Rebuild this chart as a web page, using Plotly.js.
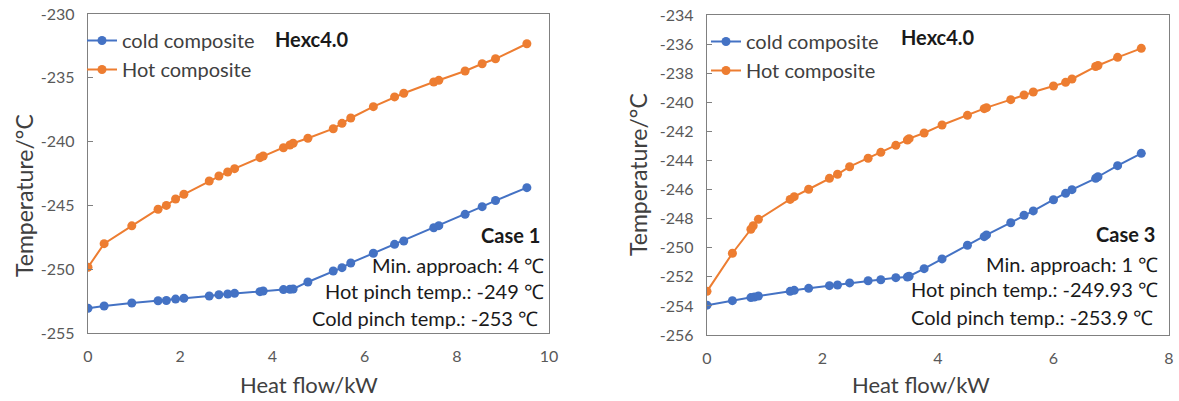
<!DOCTYPE html>
<html>
<head>
<meta charset="utf-8">
<script src="https://cdn.plot.ly/plotly-3.0.1.min.js"></script>
<style>html,body{margin:0;padding:0;background:#fff;}#chart{width:1179px;height:401px;}</style>
</head>
<body>
<div id="chart"></div>
<script>
// ---- Case 1 data ----
const case1HotQ = [0, 0.35, 0.95, 1.52, 1.70, 1.90, 2.08, 2.63, 2.84, 3.03, 3.18, 3.73, 3.80, 4.24, 4.38, 4.45, 4.77, 5.32, 5.51, 5.70, 6.19, 6.65, 6.85, 7.50, 7.61, 8.18, 8.55, 8.84, 9.52];
const case1HotT = [-249.85, -248.0, -246.6, -245.3, -245.0, -244.5, -244.13, -243.09, -242.7, -242.38, -242.12, -241.26, -241.13, -240.48, -240.27, -240.13, -239.74, -238.99, -238.57, -238.15, -237.26, -236.5, -236.21, -235.33, -235.2, -234.47, -233.9, -233.51, -232.33];
const case1ColdQ = [0, 0.35, 0.95, 1.52, 1.70, 1.90, 2.08, 2.63, 2.84, 3.03, 3.18, 3.73, 3.80, 4.24, 4.38, 4.45, 4.77, 5.32, 5.51, 5.70, 6.19, 6.65, 6.85, 7.50, 7.61, 8.18, 8.55, 8.84, 9.52];
const case1ColdT = [-253.06, -252.88, -252.65, -252.47, -252.45, -252.34, -252.28, -252.1, -252.0, -251.94, -251.89, -251.76, -251.71, -251.6, -251.57, -251.55, -251.0, -250.14, -249.88, -249.51, -248.75, -248.05, -247.79, -246.75, -246.59, -245.7, -245.1, -244.62, -243.61];

// ---- Case 3 data ----
const case3HotQ = [0, 0.44, 0.76, 0.80, 0.89, 1.44, 1.51, 1.76, 2.12, 2.26, 2.47, 2.79, 3.01, 3.27, 3.47, 3.50, 3.76, 4.07, 4.51, 4.80, 4.84, 5.26, 5.49, 5.65, 6.00, 6.21, 6.32, 6.73, 6.77, 7.11, 7.52];
const case3HotT = [-253.0, -250.38, -248.73, -248.49, -248.05, -246.68, -246.49, -245.98, -245.23, -244.95, -244.43, -243.85, -243.44, -242.96, -242.59, -242.5, -242.11, -241.56, -240.9, -240.44, -240.37, -239.82, -239.5, -239.29, -238.88, -238.63, -238.4, -237.54, -237.47, -236.91, -236.29];
const case3ColdQ = [0, 0.44, 0.76, 0.82, 0.89, 1.44, 1.51, 1.76, 2.12, 2.26, 2.47, 2.79, 3.01, 3.27, 3.47, 3.50, 3.76, 4.07, 4.51, 4.80, 4.84, 5.26, 5.49, 5.65, 6.00, 6.21, 6.32, 6.73, 6.77, 7.11, 7.52];
const case3ColdT = [-253.95, -253.64, -253.43, -253.39, -253.32, -253.0, -252.93, -252.79, -252.61, -252.56, -252.42, -252.27, -252.2, -252.06, -252.01, -251.96, -251.44, -250.77, -249.83, -249.24, -249.12, -248.28, -247.77, -247.47, -246.7, -246.26, -246.01, -245.23, -245.12, -244.36, -243.51];

// ---- tick labels ----
const case1XTicks = [0, 2, 4, 6, 8, 10];
const case1YTicks = [-255, -250, -245, -240, -235, -230];
const case1YLabels = ["-255", "-250", "-245", "-240", "-235", "-230"];
const case3XTicks = [0, 2, 4, 6, 8];
const case3YTicks = [-256, -254, -252, -250, -248, -246, -244, -242, -240, -238, -236, -234];
const case3YLabels = ["-256", "-254", "-252", "-250", "-248", "-246", "-244", "-242", "-240", "-238", "-236", "-234"];

// ---- text ----
const seriesNames = ["cold composite", "Hot composite"];
const blockTitle = "Hexc4.0";
const case1Lines = ["Case 1", "Min. approach: 4 ℃", "Hot pinch temp.: -249 ℃", "Cold pinch temp.: -253 ℃"];
const case3Lines = ["Case 3", "Min. approach: 1 ℃", "Hot pinch temp.: -249.93 ℃", "Cold pinch temp.: -253.9 ℃"];
const xTitle = "Heat flow/kW";
const yTitle = "Temperature/°C";

const W = 1179, H = 401;
const px = x => x / W;
const py = y => 1 - y / H;

const BLUE = "#4472C4", ORANGE = "#ED7D31";
const FONT = "Lato, 'Open Sans', sans-serif";
const TICKC = "#595959";
const TITLEC = "#404040";

function trace(x, y, name, color, xa, ya, lg) {
  return {
    x: x, y: y, name: name, type: "scatter", mode: "lines+markers",
    line: {color: color, width: 2},
    marker: {color: color, size: 9, symbol: "circle"},
    xaxis: xa, yaxis: ya, legend: lg
  };
}

const data = [
  trace(case1ColdQ, case1ColdT, seriesNames[0], BLUE, "x", "y", "legend"),
  trace(case1HotQ, case1HotT, seriesNames[1], ORANGE, "x", "y", "legend"),
  trace(case3ColdQ, case3ColdT, seriesNames[0], BLUE, "x2", "y2", "legend2"),
  trace(case3HotQ, case3HotT, seriesNames[1], ORANGE, "x2", "y2", "legend2")
];

function xaxis(domain, range, ticks, anchor) {
  return {
    domain: domain, range: range, anchor: anchor,
    tickmode: "array", tickvals: ticks, ticktext: ticks.map(String),
    showline: true, mirror: true, linecolor: "#808080", linewidth: 1.3,
    showgrid: false, zeroline: false, ticks: "",
    ticklabelstandoff: 8,
    tickfont: {family: FONT, size: 16, color: TICKC}
  };
}
function yaxis(domain, range, ticks, labels, anchor) {
  return {
    domain: domain, range: range, anchor: anchor,
    tickmode: "array", tickvals: ticks, ticktext: labels,
    showline: true, mirror: true, linecolor: "#808080", linewidth: 1.3,
    showgrid: false, zeroline: false, ticks: "inside", ticklen: 5, tickcolor: "#808080",
    ticklabelstandoff: 9,
    tickfont: {family: FONT, size: 16, color: TICKC}
  };
}

const annotations = [];
function addText(lines, rightX, ys) {
  lines.forEach((t, i) => {
    annotations.push({
      xref: "paper", yref: "paper", x: px(rightX[i]), y: py(ys[i]),
      xanchor: "right", yanchor: "middle", showarrow: false,
      text: i === 0 ? "<b>" + t + "</b>" : t,
      font: {family: FONT, size: 20, color: "#1a1a1a"}
    });
  });
}
addText(case1Lines, [542, 546, 546, 540], [235, 265, 291, 318]);
addText(case3Lines, [1157, 1160, 1160, 1155], [234, 264, 289, 317]);

function addLabel(text, x, y, size, angle, color, bold) {
  annotations.push({xref: "paper", yref: "paper", x: px(x), y: py(y), xanchor: "center", yanchor: "middle",
    showarrow: false, textangle: angle, text: bold ? "<b>" + text + "</b>" : text,
    font: {family: FONT, size: size, color: color}});
}
addLabel(blockTitle, 312, 39, 20, 0, "#1a1a1a", true);
addLabel(blockTitle, 938, 37, 20, 0, "#1a1a1a", true);
// axis titles
addLabel(xTitle, 309, 384, 22, 0, TITLEC, false);
addLabel(xTitle, 921, 384, 22, 0, TITLEC, false);
addLabel(yTitle, 24, 196, 23, -90, TITLEC, false);
addLabel(yTitle, 638, 174, 23, -90, TITLEC, false);

const legendBase = {
  bgcolor: "rgba(0,0,0,0)", borderwidth: 0, xanchor: "left", yanchor: "top",
  font: {family: FONT, size: 20, color: TITLEC}, tracegroupgap: 0, itemwidth: 30
};

const layout = {
  width: W, height: H,
  margin: {l: 0, r: 0, t: 0, b: 0},
  paper_bgcolor: "#fff", plot_bgcolor: "#fff",
  font: {family: FONT},
  xaxis: xaxis([px(88), px(549)], [0, 10], case1XTicks, "y"),
  yaxis: yaxis([py(333), py(14)], [-255, -230], case1YTicks, case1YLabels, "x"),
  xaxis2: xaxis([px(707), px(1169)], [0, 8], case3XTicks, "y2"),
  yaxis2: yaxis([py(335), py(15)], [-256, -234], case3YTicks, case3YLabels, "x2"),
  legend: Object.assign({}, legendBase, {x: px(82), y: py(21)}),
  legend2: Object.assign({}, legendBase, {x: px(706), y: py(22)}),
  showlegend: true,
  annotations: annotations
};

Plotly.newPlot("chart", data, layout, {staticPlot: true, displayModeBar: false});
</script>
</body>
</html>
